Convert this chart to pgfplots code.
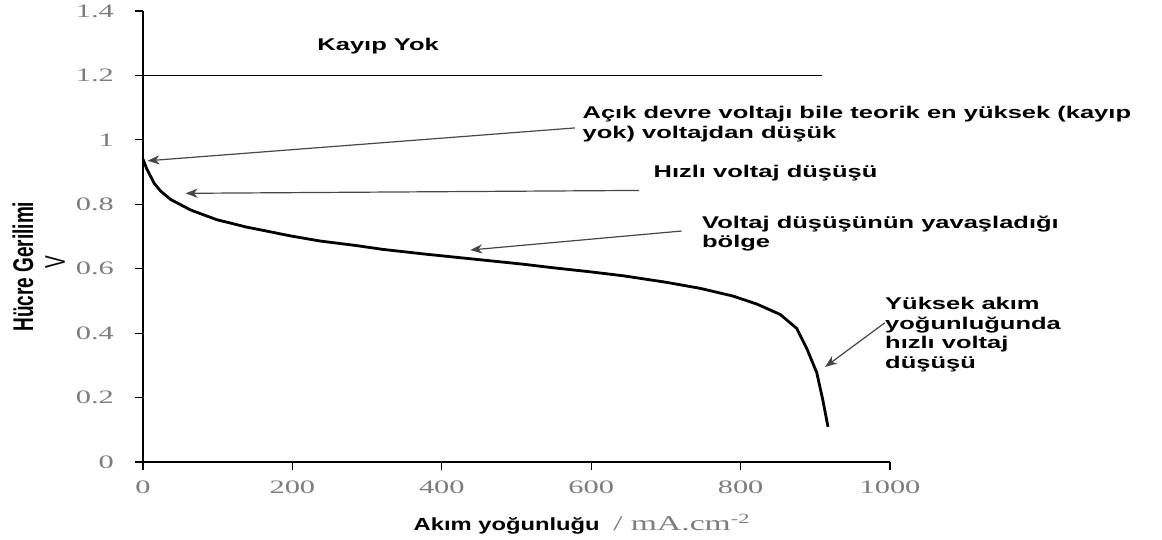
\documentclass[border=0pt]{standalone}
\usepackage{fontspec}
\usepackage{pgfplots}
\pgfplotsset{compat=1.18}
\usetikzlibrary{arrows.meta}
\setmainfont{Liberation Serif}
\newfontfamily\annfont{Liberation Sans}[FakeStretch=1.5]
\newfontfamily\xlabfont{Liberation Sans}[FakeStretch=1.35]
\newfontfamily\tickfont{Liberation Serif}[FakeStretch=1.6]
\newfontfamily\labfont{Liberation Sans}
\definecolor{tickgray}{RGB}{125,125,125}
\definecolor{arrgray}{RGB}{70,70,70}
\begin{document}
\begin{tikzpicture}
\useasboundingbox (-71.5pt,-39pt) rectangle (509.5pt,231pt);
\begin{axis}[
  at={(0,0)}, anchor=south west,
  scale only axis, width=373.5pt, height=225.5pt,
  xmin=0, xmax=1000, ymin=0, ymax=1.4,
  axis lines=left,
  axis line style={-, black, line width=0.7pt},
  xtick={0,200,400,600,800,1000},
  ytick={0,0.2,0.4,0.6,0.8,1,1.2,1.4},
  yticklabels={0,0.2,0.4,0.6,0.8,1,1.2,1.4},
  xticklabels={0,200,400,600,800,1000},
  tick align=outside,
  major tick length=4pt,
  tick style={black, line width=0.6pt},
  tick label style={font=\tickfont\fontsize{9.5}{11}\selectfont, text=tickgray},
  yticklabel style={xshift=-7pt},
  xticklabel style={yshift=-2pt},
  clip=false,
]
\addplot[black, line width=0.9pt] coordinates {(0,1.2) (909,1.2)};
\addplot[black, line width=1.4pt, line join=round] coordinates {
(0,0.94) (5,0.91) (15,0.865) (24,0.84) (37,0.815) (64,0.782) (99,0.752)
(139,0.729) (161,0.719) (197,0.702) (237,0.686) (285,0.672) (321,0.660)
(375,0.646) (442,0.630) (509,0.614) (545,0.604) (600,0.590) (643,0.578)
(700,0.558) (746,0.539) (790,0.515) (822,0.490) (853,0.458) (875,0.415)
(889,0.350) (902,0.277) (910,0.193) (917,0.109)};

\tikzset{ann/.style={anchor=base west, inner sep=0pt, align=left,
  font=\annfont\bfseries\fontsize{8.5}{9.75}\selectfont},
  arr/.style={arrgray, line width=0.6pt, -{Stealth[length=6pt,width=4.5pt,inset=1.8pt]}}}

\node[ann] at (axis cs:233,1.276) {Kayıp Yok};
\node[ann] at (axis cs:588,1.0045) {Açık devre voltajı bile teorik en yüksek (kayıp\\yok) voltajdan düşük};
\node[ann] at (axis cs:683,0.882) {Hızlı voltaj düşüşü};
\node[ann] at (axis cs:748,0.6655) {Voltaj düşüşünün yavaşladığı\\bölge};
\node[ann] at (axis cs:993,0.2905) {Yüksek akım\\yoğunluğunda\\hızlı voltaj\\düşüşü};

\draw[arr] (axis cs:578,1.037) -- (axis cs:6,0.935);
\draw[arr] (axis cs:664,0.843) -- (axis cs:57,0.834);
\draw[arr] (axis cs:721,0.717) -- (axis cs:438,0.658);
\draw[arr] (axis cs:993,0.432) -- (axis cs:913,0.295);

\node[rotate=90, inner sep=0pt, font=\labfont\bfseries\fontsize{9.5}{11}\selectfont]
  at ([xshift=-60pt]rel axis cs:0,0.433) {\scalebox{1}[1.5]{Hücre Gerilimi}};
\node[rotate=90, inner sep=0pt, font=\labfont\fontsize{9.5}{11}\selectfont]
  at ([xshift=-44pt]rel axis cs:0,0.443) {\scalebox{1}[1.5]{V}};

\node[anchor=base east, inner sep=0pt, font=\xlabfont\bfseries\fontsize{8.8}{11}\selectfont]
  at ([yshift=-34.5pt]axis cs:612,0) {Akım yoğunluğu};
\node[anchor=base west, inner sep=0pt, text=tickgray, font=\tickfont\fontsize{10.5}{12}\selectfont]
  at ([yshift=-34.5pt]axis cs:629,0) {/ mA.cm$^{\mbox{\tickfont\fontsize{7}{8}\selectfont -2}}$};
\end{axis}
\end{tikzpicture}
\end{document}
